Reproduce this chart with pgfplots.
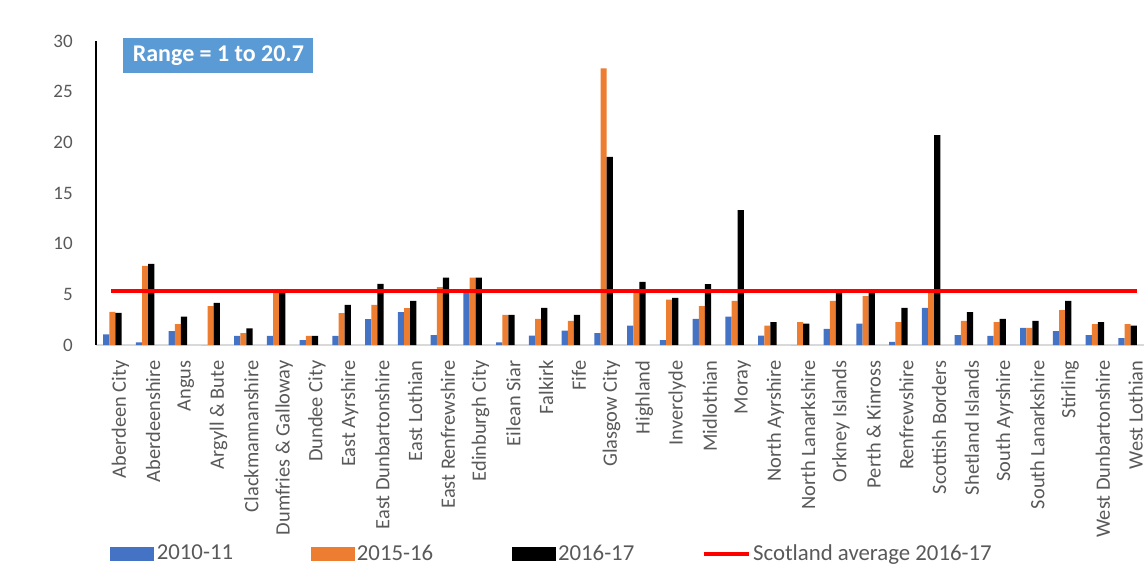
\documentclass[border=0pt]{standalone}
\usepackage{pgfplots}
\usepackage{pgfplotstable}
\pgfplotsset{compat=1.18}
\usepackage{fontspec}
\setmainfont{Carlito}
\definecolor{xlblue}{HTML}{4472C4}
\definecolor{xlorange}{HTML}{ED7D31}
\definecolor{txtgray}{HTML}{595959}
\definecolor{boxblue}{HTML}{5B9BD5}
\pgfplotstableread{
x b o k
0 1.05 3.28 3.18
1 0.26 7.8 8.0
2 1.38 2.07 2.79
3 0 3.84 4.16
4 0.89 1.18 1.64
5 0.89 5.3 5.2
6 0.49 0.89 0.89
7 0.89 3.15 3.97
8 2.56 3.97 6.03
9 3.25 3.64 4.36
10 0.98 5.7 6.66
11 5.2 6.66 6.66
12 0.26 2.98 2.98
13 0.92 2.59 3.67
14 1.41 2.39 2.98
15 1.18 27.3 18.56
16 1.9 5.25 6.23
17 0.49 4.49 4.66
18 2.59 3.84 6.0
19 2.79 4.36 13.3
20 0.92 1.9 2.26
21 0 2.26 2.1
22 1.6 4.36 5.25
23 2.1 4.82 5.25
24 0.3 2.26 3.67
25 3.67 5.25 20.7
26 0.98 2.39 3.25
27 0.89 2.26 2.59
28 1.7 1.7 2.39
29 1.38 3.44 4.36
30 0.98 2.07 2.26
31 0.69 2.07 1.9
}\datatable
\begin{document}
\begin{tikzpicture}
\begin{axis}[
  scale only axis,
  width=524pt, height=152pt,
  xmin=-0.5, xmax=31.5, ymin=0, ymax=30,
  axis x line=bottom, axis y line=left,
  x axis line style={-, draw=black!15, line width=0.6pt},
  y axis line style={-, draw=black, line width=0.7pt},
  xtick=data,
  xticklabels={Aberdeen City,Aberdeenshire,Angus,Argyll \& Bute,Clackmannanshire,Dumfries \& Galloway,Dundee City,East Ayrshire,East Dunbartonshire,East Lothian,East Renfrewshire,Edinburgh City,Eilean Siar,Falkirk,Fife,Glasgow City,Highland,Inverclyde,Midlothian,Moray,North Ayrshire,North Lanarkshire,Orkney Islands,Perth \& Kinross,Renfrewshire,Scottish Borders,Shetland Islands,South Ayrshire,South Lanarkshire,Stirling,West Dunbartonshire,West Lothian},
  xticklabel style={rotate=90, anchor=east, yshift=-4pt, font=\fontsize{10.2}{12}\selectfont, text=txtgray},
  ytick={0,5,...,30},
  yticklabel style={xshift=-6pt, font=\fontsize{9.5}{11}\selectfont, text=txtgray},
  /pgf/number format/assume math mode=true,
  tick style={draw=none},
  ybar, bar width=0.19,
  legend columns=4,
  legend style={at={(axis description cs:0,0)}, anchor=west, xshift=4pt, yshift=-104.5pt,
    draw=none, fill=none, font=\fontsize{11.4}{13}\selectfont, text=txtgray,
    nodes={inner sep=1.2pt}},
  legend cell align=left,
  clip=false,
]
\addplot[fill=xlblue, draw=none, bar shift=-0.19,
  legend image code/.code={\fill[xlblue] (0pt,-3.3pt) rectangle (22pt,3.3pt);}]
  table[x=x, y=b] {\datatable};
\addlegendentry{2010-11\hspace*{37.5pt}\mbox{}}
\addplot[fill=xlorange, draw=none, bar shift=0,
  legend image code/.code={\fill[xlorange] (0pt,-3.3pt) rectangle (22pt,3.3pt);}]
  table[x=x, y=o] {\datatable};
\addlegendentry{2015-16\hspace*{38pt}\mbox{}}
\addplot[fill=black, draw=none, bar shift=0.19,
  legend image code/.code={\fill[black] (0pt,-3.3pt) rectangle (22pt,3.3pt);}]
  table[x=x, y=k] {\datatable};
\addlegendentry{2016-17\hspace*{32.5pt}\mbox{}}
\addplot[sharp plot, red, line width=2pt, forget plot] coordinates {(-0.04,5.3) (31.3,5.3)};
\addlegendimage{red, line width=2pt, legend image code/.code={\draw[red, line width=2pt] (0pt,0pt) -- (22.5pt,0pt);}}
\addlegendentry{Scotland average 2016-17}
\node[fill=boxblue, text=white, font=\bfseries\fontsize{12}{14}\selectfont, anchor=north west,
  minimum width=95pt, minimum height=17.5pt, inner sep=2pt]
  at (rel axis cs:0.0258,1.01) {Range = 1 to 20.7};
\end{axis}
\pgfresetboundingbox
\path[use as bounding box] (-48pt,-119.5pt) rectangle (526pt,172.5pt);
\end{tikzpicture}
\end{document}
